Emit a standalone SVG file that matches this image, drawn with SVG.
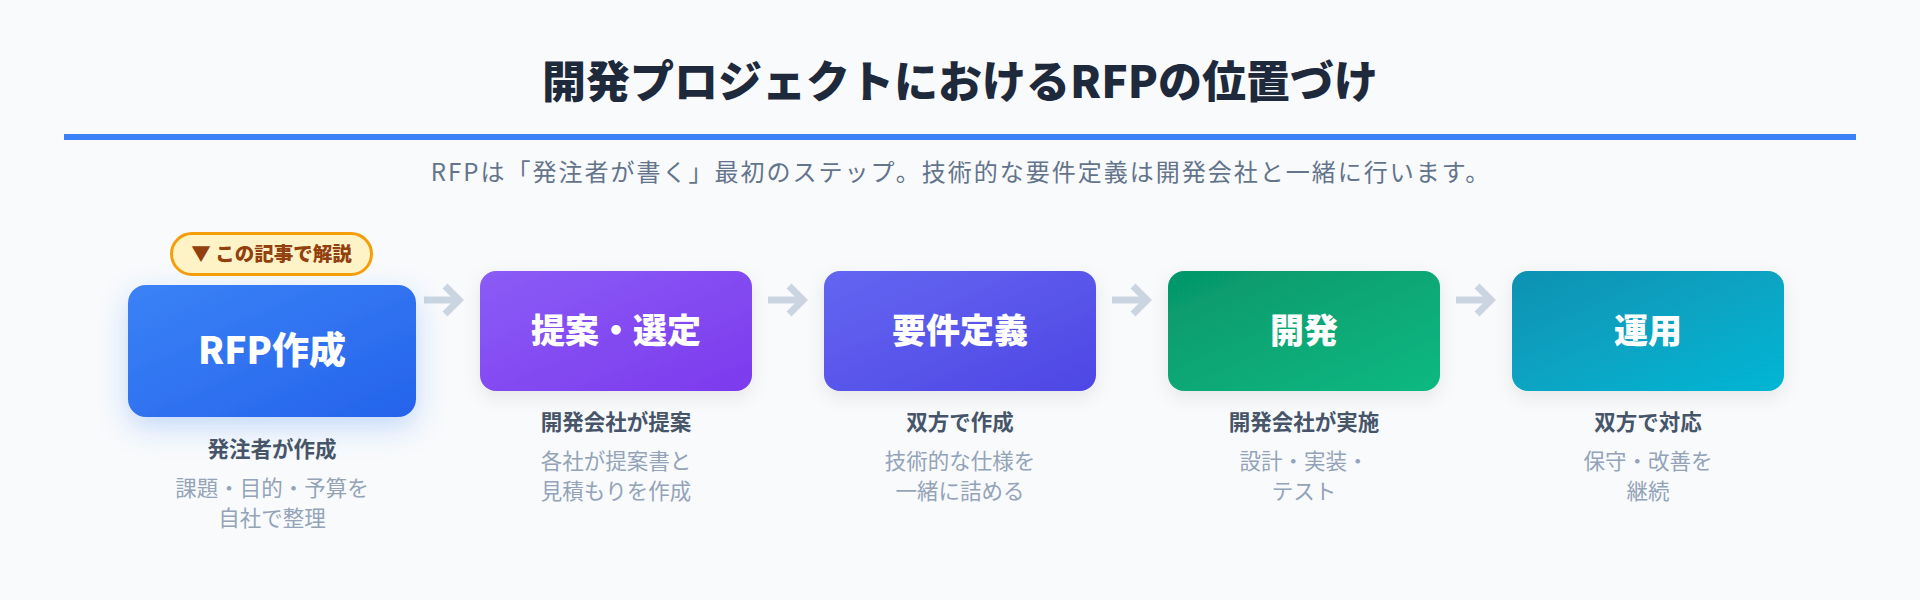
<svg xmlns="http://www.w3.org/2000/svg" width="1920" height="600" viewBox="0 0 1920 600">
  <defs>
    <linearGradient id="g1" x1="0" y1="0" x2="1" y2="1"><stop offset="0" stop-color="#3b82f6"/><stop offset="1" stop-color="#2563eb"/></linearGradient>
    <linearGradient id="g2" x1="0" y1="0" x2="1" y2="1"><stop offset="0" stop-color="#8b5cf6"/><stop offset="1" stop-color="#7c3aed"/></linearGradient>
    <linearGradient id="g3" x1="0" y1="0" x2="1" y2="1"><stop offset="0" stop-color="#6366f1"/><stop offset="1" stop-color="#4f46e5"/></linearGradient>
    <linearGradient id="g4" x1="0" y1="0" x2="1" y2="1"><stop offset="0" stop-color="#059669"/><stop offset="1" stop-color="#10b981"/></linearGradient>
    <linearGradient id="g5" x1="0" y1="0" x2="1" y2="1"><stop offset="0" stop-color="#0891b2"/><stop offset="1" stop-color="#06b6d4"/></linearGradient>
    <filter id="sh" x="-20%" y="-20%" width="140%" height="160%">
      <feDropShadow dx="0" dy="6" stdDeviation="9" flood-color="#0f172a" flood-opacity="0.08"/>
    </filter>
    <filter id="shBlue" x="-25%" y="-25%" width="150%" height="170%">
      <feDropShadow dx="0" dy="10" stdDeviation="14" flood-color="#3b82f6" flood-opacity="0.28"/>
    </filter>
  </defs>
  <style>
    text { font-family: "Noto Sans CJK JP", "Noto Sans", sans-serif; text-anchor: middle; }
    .title { font-size: 44px; font-weight: 900; fill: #1e293b; }
    .sub { font-size: 24px; font-weight: 400; fill: #64748b; letter-spacing: 2px; }
    .box-t { font-weight: 900; fill: #ffffff; }
    .lbl { font-size: 21.5px; font-weight: 700; fill: #475569; }
    .desc { font-size: 21.5px; font-weight: 400; fill: #94a3b8; }
    .badge-t { font-size: 19.5px; font-weight: 900; fill: #92400e; }
    .arrow { fill: none; stroke: #cbd5e1; stroke-width: 7; stroke-linejoin: miter; stroke-linecap: butt; }
  </style>

  <rect width="1920" height="600" fill="#f8fafc"/>

  <g id="header">
    <text class="title" x="960" y="98">開発プロジェクトにおけるRFPの位置づけ</text>
    <rect x="64" y="134" width="1792" height="6" fill="#3b82f6"/>
    <text class="sub" x="961" y="181">RFPは「発注者が書く」最初のステップ。技術的な要件定義は開発会社と一緒に行います。</text>
  </g>

  <g id="connectors">
    <path class="arrow" d="M424 300H458M445 286L459 300L445 314"/>
    <path class="arrow" d="M768 300H802M789 286L803 300L789 314"/>
    <path class="arrow" d="M1112 300H1146M1133 286L1147 300L1133 314"/>
    <path class="arrow" d="M1456 300H1490M1477 286L1491 300L1477 314"/>
  </g>

  <g id="node-rfp">
    <rect x="128" y="285" width="288" height="132" rx="18" fill="url(#g1)" filter="url(#shBlue)"/>
    <text class="box-t" x="272" y="364" font-size="37">RFP作成</text>
    <text class="lbl" x="272" y="457">発注者が作成</text>
    <text class="desc" x="272" y="496">課題・目的・予算を</text>
    <text class="desc" x="272" y="526">自社で整理</text>
  </g>

  <g id="badge">
    <rect x="171.5" y="233.5" width="200" height="41" rx="20.5" fill="#fef3c7" stroke="#f59e0b" stroke-width="3"/>
    <text class="badge-t" x="271.5" y="261">▼ この記事で解説</text>
  </g>

  <g id="node-proposal">
    <rect x="480" y="271" width="272" height="120" rx="16" fill="url(#g2)" filter="url(#sh)"/>
    <text class="box-t" x="616" y="343" font-size="34">提案・選定</text>
    <text class="lbl" x="616" y="430">開発会社が提案</text>
    <text class="desc" x="616" y="469">各社が提案書と</text>
    <text class="desc" x="616" y="499">見積もりを作成</text>
  </g>

  <g id="node-requirements">
    <rect x="824" y="271" width="272" height="120" rx="16" fill="url(#g3)" filter="url(#sh)"/>
    <text class="box-t" x="960" y="343" font-size="34">要件定義</text>
    <text class="lbl" x="960" y="430">双方で作成</text>
    <text class="desc" x="960" y="469">技術的な仕様を</text>
    <text class="desc" x="960" y="499">一緒に詰める</text>
  </g>

  <g id="node-development">
    <rect x="1168" y="271" width="272" height="120" rx="16" fill="url(#g4)" filter="url(#sh)"/>
    <text class="box-t" x="1304" y="343" font-size="34">開発</text>
    <text class="lbl" x="1304" y="430">開発会社が実施</text>
    <text class="desc" x="1304" y="469">設計・実装・</text>
    <text class="desc" x="1304" y="499">テスト</text>
  </g>

  <g id="node-operation">
    <rect x="1512" y="271" width="272" height="120" rx="16" fill="url(#g5)" filter="url(#sh)"/>
    <text class="box-t" x="1648" y="343" font-size="34">運用</text>
    <text class="lbl" x="1648" y="430">双方で対応</text>
    <text class="desc" x="1648" y="469">保守・改善を</text>
    <text class="desc" x="1648" y="499">継続</text>
  </g>
</svg>
